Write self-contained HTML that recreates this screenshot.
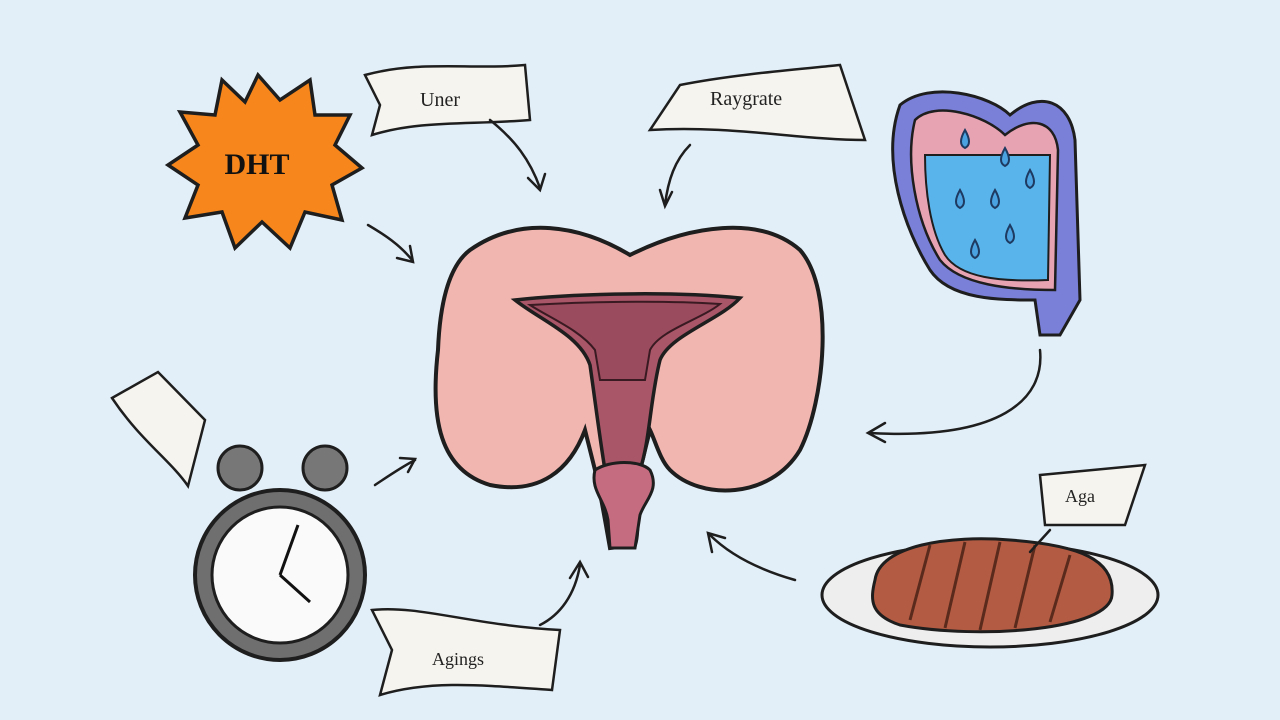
<!DOCTYPE html>
<html><head><meta charset="utf-8"><style>
html,body{margin:0;padding:0;background:#e3eff8;}
svg{display:block}
text{font-family:"Liberation Serif",serif;}
</style></head><body>
<svg width="1280" height="720" viewBox="0 0 1280 720" xmlns="http://www.w3.org/2000/svg">
<rect width="1280" height="720" fill="#e3eff8"/>
<!-- central organ -->
<path d="M470 250 C520 215 580 225 630 255 C690 225 760 215 800 250 C835 290 825 400 800 450 C770 500 700 500 670 470 C660 460 655 440 650 430 L640 470 C635 500 640 530 635 545 L610 548 C605 520 600 490 595 470 L585 430 C570 470 540 495 490 485 C440 470 430 420 438 350 C440 300 450 265 470 250 Z" fill="#f2b6b0" stroke="#1e1e1e" stroke-width="4"/>
<path d="M515 300 C560 295 660 290 740 298 C720 320 670 335 660 360 C650 400 650 440 640 470 L605 470 C600 440 595 400 590 365 C580 335 540 320 515 300 Z" fill="#a95668" stroke="#1e1e1e" stroke-width="3.5"/>
<path d="M530 305 C580 302 660 300 720 304 C700 320 660 330 650 350 L645 380 L600 380 L595 350 C580 330 550 318 530 305 Z" fill="#9a4b5e" stroke="#3a1a22" stroke-width="2"/>
<path d="M595 470 C590 490 605 500 608 520 L610 548 L635 548 L640 515 C645 500 660 490 650 470 C640 460 610 460 595 470 Z" fill="#c66c80" stroke="#1e1e1e" stroke-width="3"/>
<!-- DHT star -->
<path d="M258 75 L280 100 L310 80 L315 115 L350 115 L335 145 L362 168 L332 185 L342 220 L305 212 L290 248 L262 222 L235 248 L222 212 L185 218 L198 185 L168 165 L198 145 L180 112 L215 115 L222 80 L245 102 Z" fill="#f7871c" stroke="#1e1e1e" stroke-width="3.5"/>
<text x="257" y="174" text-anchor="middle" font-family="Liberation Sans" font-weight="bold" font-size="30" fill="#111">DHT</text>
<!-- colon -->
<path d="M900 105 C930 80 990 95 1010 115 C1040 90 1070 100 1075 140 L1080 300 L1060 335 L1040 335 L1035 300 C1000 300 950 300 930 270 C905 230 880 160 900 105 Z" fill="#7a7fd8" stroke="#1e1e1e" stroke-width="3"/>
<path d="M915 120 C935 100 985 115 1005 135 C1030 115 1055 120 1058 150 L1055 290 C1010 290 960 285 940 260 C915 220 905 160 915 120 Z" fill="#e8a3b3" stroke="#1e1e1e" stroke-width="2.5"/>
<path d="M925 155 L1050 155 L1048 280 C1000 282 960 278 945 255 C930 230 925 190 925 155 Z" fill="#59b4ec" stroke="#1e1e1e" stroke-width="2"/>
<g fill="#4aa3e0" stroke="#1e3a60" stroke-width="2">
<path d="M965 130 q-8 14 0 18 q8 -4 0 -18z"/><path d="M1005 148 q-8 14 0 18 q8 -4 0 -18z"/>
<path d="M960 190 q-8 14 0 18 q8 -4 0 -18z"/><path d="M995 190 q-8 14 0 18 q8 -4 0 -18z"/>
<path d="M1030 170 q-8 14 0 18 q8 -4 0 -18z"/><path d="M975 240 q-8 14 0 18 q8 -4 0 -18z"/>
<path d="M1010 225 q-8 14 0 18 q8 -4 0 -18z"/>
</g>
<!-- clock -->
<circle cx="240" cy="468" r="22" fill="#777" stroke="#1e1e1e" stroke-width="3"/>
<circle cx="325" cy="468" r="22" fill="#777" stroke="#1e1e1e" stroke-width="3"/>
<circle cx="280" cy="575" r="85" fill="#6f6f6f" stroke="#1e1e1e" stroke-width="4"/>
<circle cx="280" cy="575" r="68" fill="#fafafa" stroke="#1e1e1e" stroke-width="3"/>
<line x1="280" y1="575" x2="298" y2="525" stroke="#111" stroke-width="3"/>
<line x1="280" y1="575" x2="310" y2="602" stroke="#111" stroke-width="3"/>
<!-- steak plate -->
<ellipse cx="990" cy="595" rx="168" ry="52" fill="#eeeeee" stroke="#1e1e1e" stroke-width="3"/>
<path d="M875 580 C880 545 950 535 1010 540 C1080 545 1115 560 1112 595 C1110 630 980 640 900 625 C870 615 870 600 875 580 Z" fill="#b45c43" stroke="#1e1e1e" stroke-width="3"/>
<g stroke="#5a2a1d" stroke-width="3"><line x1="930" y1="545" x2="910" y2="620"/><line x1="965" y1="542" x2="945" y2="628"/><line x1="1000" y1="542" x2="980" y2="630"/><line x1="1035" y1="545" x2="1015" y2="628"/><line x1="1070" y1="555" x2="1050" y2="622"/></g>
<!-- banners -->
<g fill="#f6f4ee" stroke="#1e1e1e" stroke-width="2.5">
<path d="M365 75 C420 60 470 70 525 65 L530 120 C470 125 420 120 372 135 L380 105 Z"/>
<path d="M650 130 L680 85 C730 75 790 70 840 65 L865 140 C800 140 730 125 650 130 Z"/>
<path d="M112 398 L158 372 L205 420 L188 486 C170 460 140 440 112 398 Z"/>
<path d="M372 610 C420 605 470 625 560 630 L552 690 C480 685 430 680 380 695 L392 650 Z"/>
<path d="M1040 475 L1145 465 L1125 525 L1045 525 Z"/>
</g>
<text x="420" y="106" font-size="20" fill="#222">Uner</text>
<text x="710" y="105" font-size="20" fill="#222">Raygrate</text>
<text x="432" y="665" font-size="18" fill="#222">Agings</text>
<text x="1065" y="502" font-size="18" fill="#222">Aga</text>
<!-- arrows -->
<g fill="none" stroke="#1e1e1e" stroke-width="2.5" stroke-linecap="round">
<path d="M490 120 C515 140 530 160 540 188"/><path d="M528 178 L540 190 L545 174"/>
<path d="M690 145 C675 160 668 180 665 205"/><path d="M660 190 L665 206 L672 192"/>
<path d="M368 225 C385 235 400 245 412 260"/><path d="M397 258 L413 262 L410 246"/>
<path d="M1040 350 C1045 400 1000 440 870 433"/><path d="M885 423 L868 433 L885 442"/>
<path d="M375 485 C390 475 400 468 415 460"/><path d="M400 458 L415 459 L408 472"/>
<path d="M540 625 C560 615 575 595 580 565"/><path d="M570 578 L580 562 L588 577"/>
<path d="M795 580 C760 570 730 555 710 535"/><path d="M712 552 L708 533 L725 538"/>
<path d="M1050 530 L1030 552"/>
</g>
</svg>
</body></html>
